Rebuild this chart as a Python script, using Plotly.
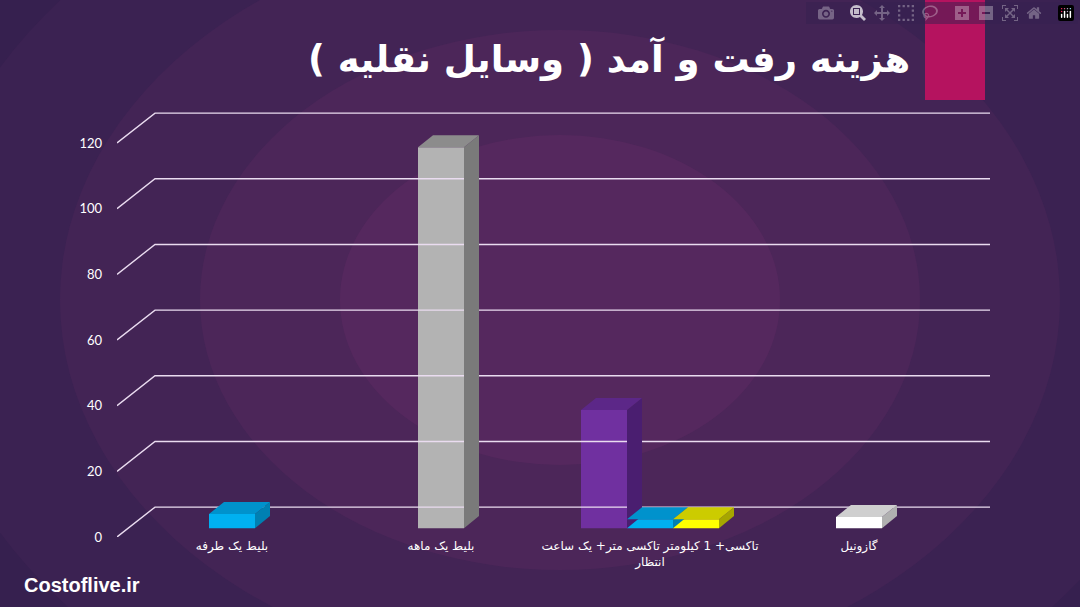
import plotly.graph_objects as go

categories = ["بلیط یک طرفه", "بلیط یک ماهه", "تاکسی+ 1 کیلومتر تاکسی متر+ یک ساعت<br>انتظار", "گازونیل"]
# (category index, slot offset, value, front, top, side)
bar_cat = [0, 1, 2, 2, 2, 3]
bar_slot = [0, 0, -1, 0, 1, 0]
bar_val = [4.3, 116, 36, 2.7, 2.7, 3.4]
bar_front = ["#00b0f0", "#b3b3b3", "#7030a0", "#00b0f0", "#ffff00", "#ffffff"]
bar_top = ["#0092cc", "#8c8c8c", "#5c2788", "#0092cc", "#cccc00", "#cfcfcf"]
bar_side = ["#0080b2", "#7a7a7a", "#4a1e70", "#0080b2", "#a6a600", "#b0b0b0"]
yticks = [0, 20, 40, 60, 80, 100, 120]
title = "هزینه رفت و آمد ( وسایل نقلیه )"

cat_x0, cat_step, bar_w = 232, 209, 46
base = 2.7
ddx, ddy = 15, 3.66
gdx, gdy = 38, 9.1
x_left, x_right = 117, 990

fig = go.Figure()
for v in yticks:
    fig.add_trace(go.Scatter(x=[x_left, x_left + gdx, x_right], y=[v, v + gdy, v + gdy],
                             mode="lines", line=dict(color="#eadcf0", width=1.4),
                             hoverinfo="skip", showlegend=False))
for c, s, v, f, t, sd in zip(bar_cat, bar_slot, bar_val, bar_front, bar_top, bar_side):
    xc = cat_x0 + cat_step * c + s * bar_w
    x0, x1 = xc - bar_w / 2, xc + bar_w / 2
    top = base + v
    fig.add_trace(go.Scatter(x=[x1, x1 + ddx, x1 + ddx, x1, x1], y=[base, base + ddy, top + ddy, top, base],
                             fill="toself", fillcolor=sd, line=dict(width=0), mode="lines",
                             hoverinfo="skip", showlegend=False))
    fig.add_trace(go.Scatter(x=[x0, x0 + ddx, x1 + ddx, x1, x0], y=[top, top + ddy, top + ddy, top, top],
                             fill="toself", fillcolor=t, line=dict(width=0), mode="lines",
                             hoverinfo="skip", showlegend=False))
    fig.add_trace(go.Bar(x=[xc], y=[v], base=[base], width=[bar_w], marker=dict(color=f, line=dict(width=0)),
                         hoverinfo="skip", showlegend=False))

shapes = []
for r, op in [(640, 0.06), (500, 0.08), (360, 0.10), (220, 0.12)]:
    shapes.append(dict(type="circle", xref="paper", yref="paper", layer="below",
                       x0=(560 - 117 - r) / 873, x1=(560 - 117 + r) / 873,
                       y0=(537 - 300 - r * 0.75) / 437, y1=(537 - 300 + r * 0.75) / 437,
                       fillcolor="#a03c84", opacity=op, line=dict(width=0)))
shapes.append(dict(type="rect", xref="paper", yref="paper", x0=(925 - 117) / 873, x1=(985 - 117) / 873,
                   y0=1.0, y1=537 / 437, fillcolor="#b5135f", line=dict(width=0)))
fig.update_layout(
    width=1080, height=607, margin=dict(l=117, r=90, t=100, b=70),
    paper_bgcolor="#36204f", plot_bgcolor="rgba(0,0,0,0)", barmode="overlay",
    xaxis=dict(range=[x_left, x_right], showgrid=False, zeroline=False,
               tickvals=[cat_x0 + cat_step * i for i in range(4)], ticktext=categories,
               tickfont=dict(color="white", size=12, family="DejaVu Sans"), ticks="", ticklen=0),
    yaxis=dict(range=[0, 133.1], showgrid=False, zeroline=False, tickvals=yticks,
               tickprefix="<b>", ticksuffix="</b>",
               tickfont=dict(color="white", size=13, family="Lato"), ticklabelstandoff=14),
    shapes=shapes,
    annotations=[
        dict(text="<b>" + title + "</b>", xref="paper", yref="paper", x=(912 - 117) / 873, y=(537 - 58) / 437,
             xanchor="right", yanchor="middle", showarrow=False, font=dict(color="white", size=37, family="DejaVu Sans")),
        dict(text="<b>Costoflive.ir</b>", xref="paper", yref="paper", x=(22 - 117) / 873, y=(537 - 585) / 437,
             xanchor="left", yanchor="middle", showarrow=False, font=dict(color="white", size=20, family="Liberation Sans")),
    ],
)
fig.write_html("out.html", post_script="document.body.style.margin='0';")
